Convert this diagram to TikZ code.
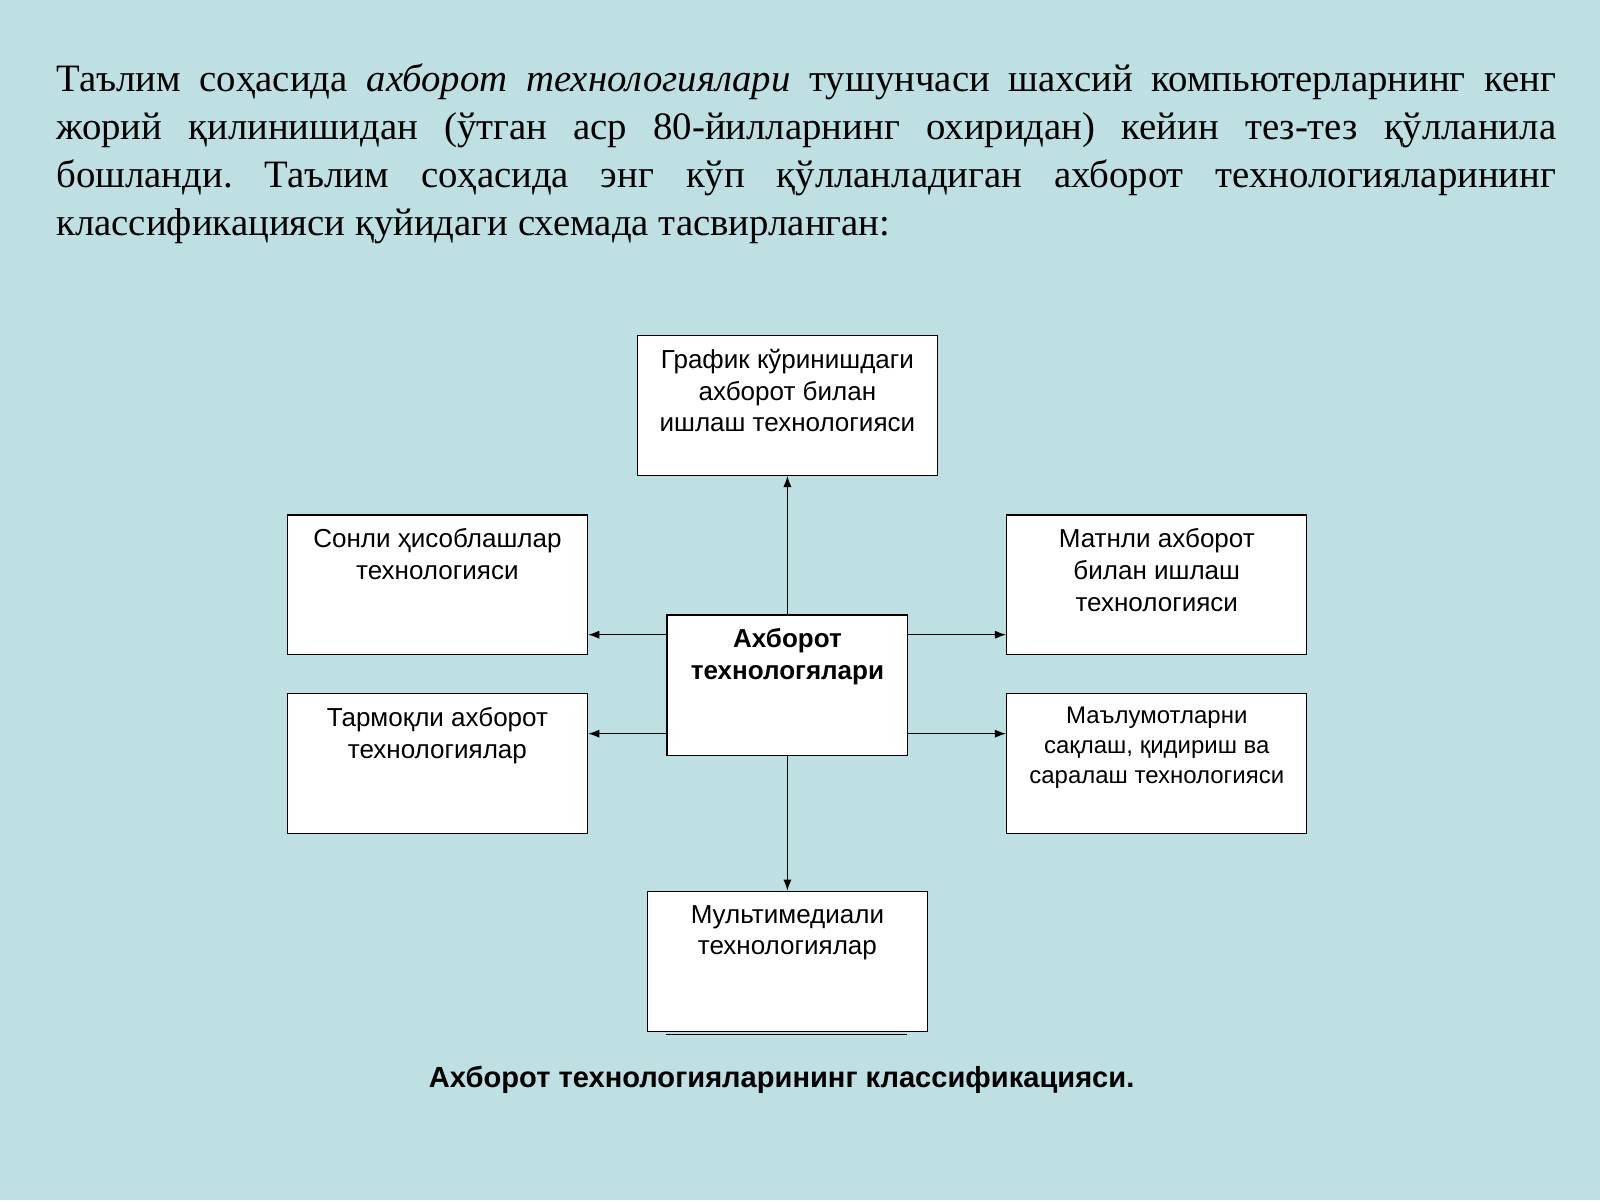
\documentclass[tikz,border=0pt]{standalone}
\usepackage{fontspec}
\setmainfont{Liberation Serif}
\setsansfont{Liberation Sans}
\usetikzlibrary{positioning,arrows.meta}
\definecolor{slidebg}{HTML}{BFE0E3}
\frenchspacing
\tikzset{
  box/.style={draw=black, line width=1.3pt, fill=white, minimum width=294pt, minimum height=137pt, inner sep=0pt},
  boxtext/.style={anchor=north, align=center, font=\sffamily\fontsize{25.5}{31}\selectfont, inner sep=0pt},
  arr/.style={-{Latex[length=11pt,width=8pt]}, line width=1.3pt}
}
\begin{document}
\begin{tikzpicture}[x=1pt,y=-1pt]
  \fill[slidebg] (0,0) rectangle (1568,1176);
  \useasboundingbox (0,0) rectangle (1568,1176);
  % intro paragraph
  \node[anchor=north west, inner sep=0pt, text width=1470pt, align=justify,
        font=\fontsize{38}{47}\selectfont] (intro) at (55,62)
    {Таълим соҳасида \textit{ахборот технологиялари} тушунчаси шахсий компьютерларнинг кенг\linebreak
     жорий қилинишидан (ўтган аср 80-йилларнинг охиридан) кейин тез-тез қўлланила\linebreak
     бошланди. Таълим соҳасида энг кўп қўлланладиган ахборот технологияларининг\linebreak
     классификацияси қуйидаги схемада тасвирланган:};
  % boxes
  \node[box, anchor=north west] (graph) at (624,328) {};
  \node[box, anchor=north west] (num) at (281,504) {};
  \node[box, anchor=north west] (textinf) at (986,504) {};
  \node[box, anchor=north west, minimum width=236pt, minimum height=138pt] (main) at (653,602) {};
  \node[box, anchor=north west] (net) at (281,679) {};
  \node[box, anchor=north west] (data) at (986,679) {};
  \draw[line width=1.3pt] (653,1014) -- (889,1014);
  \node[box, anchor=north west, minimum width=274pt] (multi) at (634,873) {};
  % box texts
  \node[boxtext] (graphT) at ([yshift=-14pt]graph.north) {График кўринишдаги\\ахборот билан\\ишлаш технологияси};
  \node[boxtext] (numT) at ([yshift=-14pt]num.north) {Сонли ҳисоблашлар\\технологияси};
  \node[boxtext] (textT) at ([yshift=-14pt]textinf.north) {Матнли ахборот\\билан ишлаш\\технологияси};
  \node[boxtext, font=\sffamily\bfseries\fontsize{25.5}{31}\selectfont] (mainT) at ([yshift=-14pt]main.north) {Ахборот\\технологялари};
  \node[boxtext] (netT) at ([yshift=-14pt]net.north) {Тармоқли ахборот\\технологиялар};
  \node[boxtext, font=\sffamily\fontsize{23.5}{29}\selectfont] (dataT) at ([yshift=-14pt]data.north) {Маълумотларни\\сақлаш, қидириш ва\\саралаш технологияси};
  \node[boxtext] (multiT) at ([yshift=-14pt]multi.north) {Мультимедиали\\технологиялар};
  % arrows
  \coordinate (mUL) at (653,622);
  \coordinate (mLL) at (653,719);
  \coordinate (mUR) at (889,622);
  \coordinate (mLR) at (889,719);
  \draw[arr] (main.north) -- (graph.south);
  \draw[arr] (main.south) -- (multi.north);
  \draw[arr] (mUL) -- (num.east |- mUL);
  \draw[arr] (mLL) -- (net.east |- mLL);
  \draw[arr] (mUR) -- (textinf.west |- mUR);
  \draw[arr] (mLR) -- (data.west |- mLR);
  % caption
  \node[font=\sffamily\bfseries\fontsize{28.5}{32}\selectfont, inner sep=0pt] (caption) at (766,1058) {Ахборот технологияларининг классификацияси.};
\end{tikzpicture}
\end{document}
